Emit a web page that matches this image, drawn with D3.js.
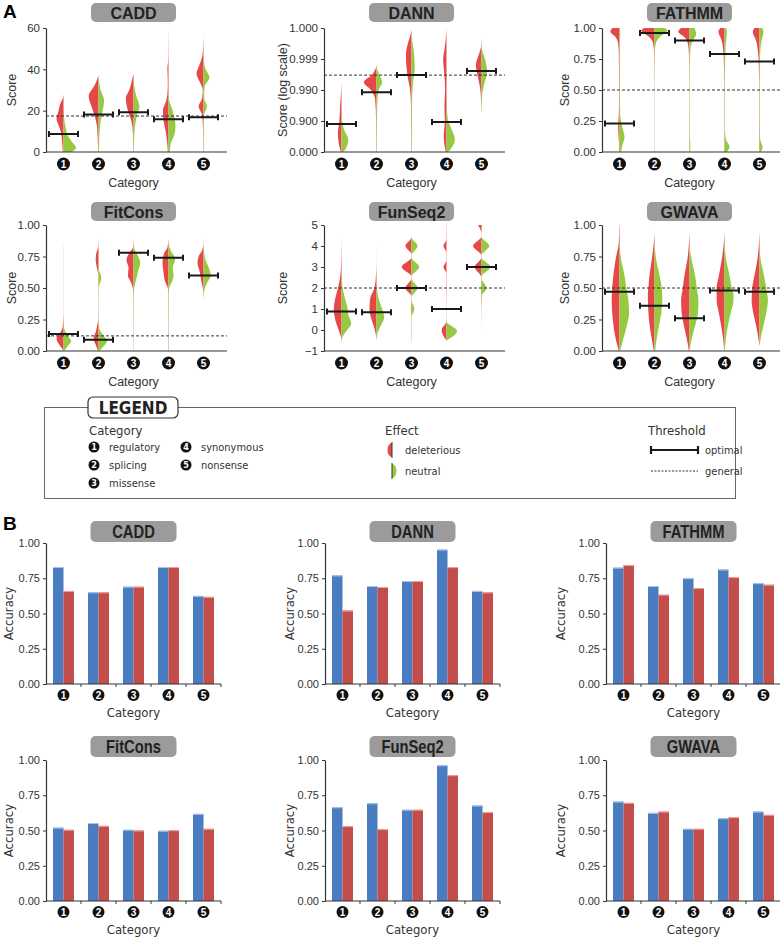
<!DOCTYPE html>
<html>
<head>
<meta charset="utf-8">
<script src="https://cdnjs.cloudflare.com/ajax/libs/d3/7.8.5/d3.min.js"></script>
<style>
body { margin: 0; background: #fff; }
svg { display: block; font-family: "Liberation Sans", Arial, sans-serif; }
.narrow { font-family: "Liberation Sans Narrow", "Arial Narrow", "DejaVu Sans Condensed", sans-serif; }
</style>
</head>
<body>
<svg id="chart" width="780" height="938"></svg>
<script>
// ---- data ----
const categories = [1, 2, 3, 4, 5];
const categoryNames = ["regulatory", "splicing", "missense", "synonymous", "nonsense"];
const tools = ["CADD", "DANN", "FATHMM", "FitCons", "FunSeq2", "GWAVA"];

// score axes (DANN is drawn in "nines": 0.9 -> 1, 0.99 -> 2, 0.999 -> 3)
const scoreDomains = [[0, 60], [0, 4], [0, 1], [0, 1], [-1, 5], [0, 1]];
const scoreTicks = [[0, 20, 40, 60], [0, 1, 2, 3, 4], [0, 0.25, 0.5, 0.75, 1], [0, 0.25, 0.5, 0.75, 1], [-1, 0, 1, 2, 3, 4, 5], [0, 0.25, 0.5, 0.75, 1]];
const dannTickLabels = ["0.000", "0.900", "0.990", "0.999", "1.000"];
const scoreLabels = ["Score", "Score (log scale)", "Score", "Score", "Score", "Score"];

const generalThreshold = [17.4, 2.48, 0.5, 0.12, 2, 0.5];
const optimalThreshold = [
  [8.7, 18.2, 19.2, 15.8, 16.8],
  [0.9, 1.93, 2.48, 0.97, 2.61],
  [0.23, 0.96, 0.9, 0.79, 0.73],
  [0.135, 0.09, 0.78, 0.74, 0.6],
  [0.88, 0.85, 2.0, 1.0, 3.0],
  [0.47, 0.36, 0.26, 0.48, 0.47]
];

// violin halves: [score, relative density]
const deleteriousCADD = [
  [[0,0.05],[5,0.1],[10,0.2],[13,0.35],[16,0.5],[20,0.35],[23,0.25],[26,0.05],[28,0]],
  [[0,0.02],[5,0.05],[12,0.1],[18,0.3],[22,0.5],[27,0.7],[32,0.3],[35,0.1],[37,0]],
  [[0,0.02],[10,0.05],[15,0.15],[20,0.4],[26,0.55],[30,0.3],[35,0.1],[38,0]],
  [[0,0.05],[5,0.1],[10,0.2],[15,0.35],[20,0.4],[25,0.15],[30,0.06],[35,0.05],[40,0.08],[45,0.02],[55,0.01],[60,0]],
  [[0,0.02],[10,0.03],[18,0.1],[22,0.35],[26,0.1],[30,0.05],[33,0.2],[38,0.5],[42,0.3],[46,0.1],[50,0.03],[58,0]]
];
const neutralCADD = [
  [[0,0.6],[2,0.9],[5,0.6],[8,0.3],[12,0.15],[15,0.07],[20,0.02],[22,0]],
  [[0,0.04],[5,0.05],[10,0.08],[15,0.15],[20,0.3],[25,0.4],[30,0.15],[35,0.03],[37,0]],
  [[0,0.03],[5,0.04],[12,0.1],[18,0.25],[22,0.43],[27,0.2],[32,0.05],[36,0]],
  [[0,0.1],[4,0.15],[8,0.4],[12,0.5],[16,0.45],[20,0.3],[25,0.05],[30,0]],
  [[0,0.02],[10,0.02],[18,0.05],[22,0.25],[26,0.05],[28,0.05],[32,0.1],[36,0.43],[40,0.15],[44,0.02],[48,0]]
];
const deleteriousDANN = [
  [[0,0.05],[0.3,0.2],[0.6,0.26],[1,0.15],[1.5,0.1],[2,0.02],[2.3,0]],
  [[0,0.02],[1,0.03],[1.7,0.1],[2,0.4],[2.25,0.9],[2.5,0.3],[2.7,0.05],[2.8,0]],
  [[0,0.02],[1.5,0.04],[2,0.1],[2.5,0.3],[3.1,0.4],[3.6,0.2],[3.8,0.05],[4,0]],
  [[0,0.05],[0.5,0.2],[1,0.12],[1.5,0.15],[2,0.1],[2.5,0.15],[3,0.24],[3.3,0.15],[3.8,0.02],[4,0]],
  [[1.3,0],[1.5,0.02],[2,0.08],[2.4,0.25],[2.8,0.4],[3.2,0.15],[3.4,0.03],[3.7,0]]
];
const neutralDANN = [
  [[0,0.1],[0.1,0.3],[0.4,0.48],[0.7,0.2],[1,0.05],[1.3,0.01],[1.5,0]],
  [[0,0.02],[1.5,0.05],[2,0.15],[2.25,0.4],[2.5,0.2],[2.65,0.05],[2.8,0]],
  [[0,0.03],[1.5,0.04],[2.2,0.1],[2.7,0.23],[3.3,0.15],[3.6,0.05],[3.9,0]],
  [[0,0.1],[0.1,0.3],[0.4,0.6],[0.8,0.3],[1.1,0.08],[1.5,0.02],[2,0]],
  [[1.3,0.02],[1.8,0.05],[2.2,0.2],[2.6,0.4],[3,0.25],[3.3,0.05],[3.6,0]]
];
const deleteriousFATHMM = [
  [[0,0.03],[0.1,0.05],[0.2,0.1],[0.3,0.05],[0.5,0.03],[0.8,0.05],[0.88,0.1],[0.93,0.3],[0.97,0.65],[1,0.5]],
  [[0,0.01],[0.5,0.01],[0.8,0.03],[0.88,0.1],[0.93,0.4],[0.98,0.95],[1,0.7]],
  [[0,0.02],[0.05,0.02],[0.5,0.01],[0.75,0.03],[0.85,0.08],[0.92,0.3],[0.97,0.8],[1,0.6]],
  [[0,0.02],[0.1,0.02],[0.5,0.02],[0.7,0.04],[0.8,0.08],[0.9,0.2],[0.97,0.43],[1,0.3]],
  [[0,0.02],[0.05,0.03],[0.5,0.02],[0.7,0.05],[0.8,0.1],[0.9,0.25],[0.97,0.48],[1,0.35]]
];
const neutralFATHMM = [
  [[0,0.1],[0.05,0.2],[0.12,0.36],[0.2,0.2],[0.3,0.05],[0.5,0.02],[0.9,0.02],[0.95,0.05],[1,0.03]],
  [[0,0.01],[0.5,0.01],[0.8,0.02],[0.88,0.1],[0.93,0.4],[0.98,0.9],[1,0.7]],
  [[0,0.05],[0.05,0.06],[0.15,0.02],[0.7,0.02],[0.85,0.08],[0.9,0.25],[0.95,0.48],[1,0.35]],
  [[0,0.15],[0.04,0.36],[0.1,0.1],[0.2,0.02],[0.5,0.02],[0.85,0.08],[0.97,0.17],[1,0.12]],
  [[0,0.1],[0.04,0.22],[0.1,0.05],[0.2,0.02],[0.5,0.02],[0.8,0.05],[0.9,0.15],[0.97,0.29],[1,0.2]]
];
const deleteriousFitCons = [
  [[0,0.02],[0.02,0.1],[0.05,0.3],[0.1,0.5],[0.15,0.2],[0.2,0.05],[0.3,0.01],[0.8,0.01],[0.85,0]],
  [[0,0.02],[0.05,0.2],[0.1,0.35],[0.15,0.2],[0.2,0.1],[0.25,0.02],[0.4,0.01],[0.6,0.02],[0.68,0.15],[0.72,0.2],[0.78,0.15],[0.83,0.02],[0.9,0]],
  [[0,0.01],[0.45,0.02],[0.5,0.05],[0.55,0.2],[0.6,0.4],[0.66,0.35],[0.72,0.5],[0.78,0.3],[0.82,0.05],[0.87,0.01],[0.9,0]],
  [[0,0.02],[0.45,0.02],[0.5,0.05],[0.55,0.24],[0.62,0.35],[0.7,0.43],[0.78,0.3],[0.82,0.08],[0.88,0.01],[0.9,0]],
  [[0.4,0],[0.5,0.05],[0.55,0.15],[0.62,0.25],[0.7,0.43],[0.75,0.35],[0.8,0.1],[0.85,0.01],[0.9,0]]
];
const neutralFitCons = [
  [[0,0.05],[0.04,0.3],[0.08,0.55],[0.12,0.3],[0.16,0.1],[0.2,0.02],[0.3,0]],
  [[0,0.05],[0.03,0.3],[0.08,0.6],[0.13,0.3],[0.18,0.05],[0.3,0.01],[0.5,0.02],[0.58,0.2],[0.65,0.03],[0.8,0.01],[0.9,0]],
  [[0,0.01],[0.45,0.02],[0.5,0.05],[0.55,0.15],[0.62,0.3],[0.7,0.48],[0.78,0.2],[0.82,0.03],[0.86,0]],
  [[0,0.01],[0.45,0.02],[0.5,0.05],[0.55,0.25],[0.6,0.36],[0.66,0.3],[0.73,0.48],[0.8,0.15],[0.85,0.02],[0.88,0]],
  [[0.4,0],[0.45,0.02],[0.5,0.1],[0.55,0.3],[0.6,0.52],[0.68,0.3],[0.72,0.15],[0.78,0.05],[0.82,0]]
];
const deleteriousFunSeq2 = [
  [[-0.6,0],[-0.3,0.05],[0,0.2],[0.5,0.45],[1,0.55],[1.5,0.45],[2,0.25],[2.5,0.1],[3,0.04],[4,0.01],[4.4,0]],
  [[-0.5,0],[-0.2,0.05],[0.2,0.2],[0.6,0.4],[1,0.5],[1.5,0.45],[2,0.15],[2.5,0.05],[3,0.01],[4,0]],
  [[-0.8,0],[0,0.01],[0.7,0.01],[1,0.05],[1.4,0.01],[1.6,0.01],[2,0.43],[2.45,0.01],[2.55,0.01],[3,0.7],[3.45,0.01],[3.6,0.01],[4,0.43],[4.4,0.01],[4.6,0]],
  [[-0.5,0],[0,0.35],[0.4,0.01],[1,0.01],[2,0.02],[2.7,0.02],[3,0.22],[3.3,0.02],[3.7,0.02],[4,0.22],[4.3,0.02],[5,0.01],[5.2,0]],
  [[-0.1,0],[1,0.01],[2,0.04],[2.5,0.01],[3,0.48],[3.45,0.01],[3.55,0.01],[4,0.6],[4.45,0.01],[4.6,0.01],[5,0.25]]
];
const neutralFunSeq2 = [
  [[-0.6,0],[-0.3,0.1],[0,0.4],[0.3,0.7],[0.7,0.5],[1,0.45],[1.5,0.25],[2,0.08],[2.5,0.02],[3,0]],
  [[-0.5,0],[-0.2,0.05],[0.2,0.3],[0.6,0.55],[1,0.4],[1.5,0.15],[2,0.03],[2.5,0]],
  [[-0.8,0],[0,0.02],[0.6,0.01],[1,0.2],[1.45,0.01],[1.55,0.01],[2,0.43],[2.45,0.01],[2.55,0.01],[3,0.55],[3.45,0.01],[3.55,0.01],[4,0.43],[4.4,0.01],[4.5,0]],
  [[-0.5,0],[-0.05,0.75],[0.4,0.01],[1,0],[5,0]],
  [[-0.1,0],[1,0.01],[1.6,0.01],[2,0.36],[2.45,0.01],[2.55,0.01],[3,0.64],[3.45,0.01],[3.55,0.01],[4,0.55],[4.45,0.01],[4.7,0.01],[5,0.06]]
];
const deleteriousGWAVA = [
  [[0,0.04],[0.1,0.28],[0.25,0.48],[0.4,0.56],[0.5,0.52],[0.6,0.44],[0.75,0.24],[0.85,0.06],[0.95,0.03],[1,0.02]],
  [[0,0.04],[0.1,0.2],[0.25,0.4],[0.45,0.48],[0.5,0.44],[0.6,0.36],[0.75,0.16],[0.9,0.02],[0.95,0]],
  [[0,0.04],[0.1,0.2],[0.2,0.4],[0.3,0.56],[0.4,0.6],[0.5,0.48],[0.6,0.36],[0.75,0.12],[0.9,0.02],[0.95,0]],
  [[0,0.02],[0.1,0.1],[0.2,0.24],[0.3,0.4],[0.4,0.56],[0.5,0.56],[0.6,0.4],[0.75,0.16],[0.9,0.02],[0.95,0]],
  [[0.05,0.02],[0.1,0.08],[0.2,0.24],[0.3,0.44],[0.4,0.56],[0.5,0.52],[0.6,0.36],[0.75,0.12],[0.9,0.02],[0.95,0]]
];
const neutralGWAVA = [
  [[0,0.04],[0.1,0.28],[0.2,0.52],[0.3,0.68],[0.4,0.64],[0.5,0.48],[0.6,0.36],[0.7,0.16],[0.8,0.04],[0.9,0.01],[0.95,0]],
  [[0,0.04],[0.1,0.16],[0.2,0.32],[0.3,0.48],[0.4,0.56],[0.5,0.52],[0.6,0.36],[0.7,0.16],[0.8,0.04],[0.9,0]],
  [[0,0.02],[0.1,0.16],[0.2,0.4],[0.3,0.6],[0.4,0.64],[0.5,0.52],[0.6,0.4],[0.7,0.2],[0.8,0.04],[0.9,0]],
  [[0,0.02],[0.1,0.1],[0.2,0.24],[0.3,0.44],[0.4,0.64],[0.45,0.64],[0.5,0.52],[0.6,0.36],[0.7,0.16],[0.8,0.04],[0.9,0]],
  [[0.05,0.02],[0.1,0.08],[0.2,0.28],[0.3,0.48],[0.4,0.6],[0.5,0.48],[0.6,0.32],[0.7,0.12],[0.8,0.02],[0.9,0]]
];
const deleterious = [deleteriousCADD, deleteriousDANN, deleteriousFATHMM, deleteriousFitCons, deleteriousFunSeq2, deleteriousGWAVA];
const neutral = [neutralCADD, neutralDANN, neutralFATHMM, neutralFitCons, neutralFunSeq2, neutralGWAVA];

// panel B accuracies (blue and red bars)
const accuracyBlue = [
  [0.83, 0.65, 0.69, 0.83, 0.625],
  [0.77, 0.695, 0.73, 0.953, 0.66],
  [0.825, 0.695, 0.75, 0.812, 0.715],
  [0.52, 0.553, 0.505, 0.498, 0.618],
  [0.665, 0.693, 0.647, 0.962, 0.677],
  [0.705, 0.625, 0.512, 0.587, 0.634]
];
const accuracyRed = [
  [0.66, 0.65, 0.69, 0.83, 0.618],
  [0.521, 0.688, 0.73, 0.829, 0.65],
  [0.843, 0.633, 0.68, 0.758, 0.704],
  [0.505, 0.533, 0.5, 0.502, 0.512],
  [0.531, 0.509, 0.647, 0.892, 0.63],
  [0.696, 0.634, 0.512, 0.594, 0.611]
];
const accuracyTicks = [0, 0.25, 0.5, 0.75, 1];

// ---- layout ----
const svg = d3.select("#chart");
const RED = "#e6484a", GREEN = "#95c940", BAR_BLUE = "#4a7cc2", BAR_RED = "#c24d4b";
const colsA = [46, 324, 602];
const rowsA = [{top: 28, bottom: 152}, {top: 225, bottom: 351}];
const colsB = [46, 325, 606];
const rowsB = [{top: 543, bottom: 684}, {top: 760, bottom: 901}];
const labelXA = [12, 283, 565];
const labelXB = [9, 290, 561];
const band = 35;

const widthScale = d3.scaleLinear().domain([0, 1]).range([0, 14]);

function styleAxis(g) {
  g.select(".domain").attr("stroke", "#333").attr("stroke-width", 1.2);
  g.selectAll(".tick line").attr("stroke", "#333");
  g.selectAll(".tick text").attr("fill", "#333");
}

function titleBox(cx, y, w, h, text, squeeze) {
  svg.append("rect")
    .attr("x", cx - w / 2).attr("y", y).attr("width", w).attr("height", h)
    .attr("rx", 5).attr("fill", "#9b9b9b");
  svg.append("text")
    .attr("transform", `translate(${cx},${y + h / 2 + 6}) scale(${squeeze},1)`)
    .attr("text-anchor", "middle")
    .attr("font-size", squeeze < 1 ? 18 : 16).attr("font-weight", "bold")
    .attr("fill", "#222").text(text);
}

function categoryMarks(x, y, r, fs) {
  const g = svg.append("g");
  const m = g.selectAll("g").data(categories).join("g")
    .attr("transform", d => `translate(${x(d) + x.bandwidth() / 2},${y})`);
  m.append("circle").attr("r", r).attr("fill", "#111");
  m.append("text").attr("y", fs * 0.36).attr("text-anchor", "middle")
    .attr("font-size", fs).attr("font-weight", "bold").attr("fill", "#fff")
    .text(d => d);
}

// ---- panel A: split violins ----
tools.forEach((tool, i) => {
  const x0 = colsA[i % 3], r = rowsA[Math.floor(i / 3)];
  const x = d3.scaleBand().domain(categories).range([x0, x0 + band * 5]);
  const y = d3.scaleLinear().domain(scoreDomains[i]).range([r.bottom, r.top]);
  const cx = d => x(d) + x.bandwidth() / 2;
  const g = svg.append("g");

  const half = (c, side) => d3.area()
    .curve(d3.curveMonotoneY)
    .y(d => y(d[0]))
    .x0(c)
    .x1(d => c + side * widthScale(d[1]));

  g.selectAll("path.del").data(deleterious[i]).join("path")
    .attr("class", "del").attr("fill", RED)
    .attr("d", (d, j) => half(cx(categories[j]), -1)(d));
  g.selectAll("path.neu").data(neutral[i]).join("path")
    .attr("class", "neu").attr("fill", GREEN)
    .attr("d", (d, j) => half(cx(categories[j]), 1)(d));

  // general threshold
  g.append("line")
    .attr("x1", x0).attr("x2", x0 + band * 5 + 6)
    .attr("y1", y(generalThreshold[i])).attr("y2", y(generalThreshold[i]))
    .attr("stroke", "#333").attr("stroke-width", 1).attr("stroke-dasharray", "3,2");

  // optimal thresholds
  g.selectAll("path.opt").data(optimalThreshold[i]).join("path")
    .attr("class", "opt")
    .attr("d", (d, j) => {
      const c = cx(categories[j]), yy = y(d);
      return `M${c - 14.5},${yy}H${c + 14.5}M${c - 14.5},${yy - 3}V${yy + 3}M${c + 14.5},${yy - 3}V${yy + 3}`;
    })
    .attr("stroke", "#1a1a1a").attr("stroke-width", 2).attr("fill", "none");

  const yAxis = d3.axisLeft(y).tickValues(scoreTicks[i]).tickSize(3).tickSizeOuter(0)
    .tickFormat(i === 1 ? (d => dannTickLabels[d]) : (scoreDomains[i][1] === 1 ? d3.format(".2f") : d3.format("d")));
  g.append("g").attr("transform", `translate(${x0},0)`).call(yAxis)
    .call(styleAxis).call(a => a.selectAll("text").attr("font-size", 11.5));

  g.append("line").attr("x1", x0).attr("x2", x0 + band * 5 + 6)
    .attr("y1", r.bottom).attr("y2", r.bottom).attr("stroke", "#333").attr("stroke-width", 1.2);

  categoryMarks(x, r.bottom + 12, 6.5, 10);
  svg.append("text").attr("x", x0 + band * 2.5).attr("y", r.bottom + 35)
    .attr("text-anchor", "middle").attr("font-size", 12.5).attr("fill", "#333").text("Category");
  svg.append("text")
    .attr("transform", `translate(${labelXA[i % 3] + 4},${(r.top + r.bottom) / 2}) rotate(-90)`)
    .attr("text-anchor", "middle").attr("font-size", 12.5).attr("fill", "#333").text(scoreLabels[i]);

  titleBox(x0 + band * 2.5, r.top - 25 + (i >= 3 ? 2 : 0), 85, 19, tool, 1);
});

svg.append("text").attr("x", 3).attr("y", 18).attr("font-size", 19).attr("font-weight", "bold").text("A");
svg.append("text").attr("x", 3).attr("y", 530).attr("font-size", 19).attr("font-weight", "bold").text("B");

// ---- legend ----
const lg = svg.append("g").attr("class", "narrow");
lg.append("rect").attr("x", 44.5).attr("y", 407.5).attr("width", 691).attr("height", 91)
  .attr("fill", "none").attr("stroke", "#666");
lg.append("rect").attr("x", 88).attr("y", 397).attr("width", 90).attr("height", 21).attr("rx", 5)
  .attr("fill", "#fff").attr("stroke", "#333").attr("stroke-width", 1.2);
lg.append("text").attr("x", 133).attr("y", 414).attr("text-anchor", "middle")
  .attr("font-size", 17).attr("font-weight", "bold").attr("fill", "#222").text("LEGEND");

[["Category", 89], ["Effect", 385], ["Threshold", 648]].forEach(([t, xx]) => {
  lg.append("text").attr("x", xx).attr("y", 435).attr("font-size", 13).attr("fill", "#333").text(t);
});

const legendItems = lg.selectAll("g.cat").data(categories).join("g").attr("class", "cat")
  .attr("transform", (d, j) => `translate(${j < 3 ? 94 : 186},${447 + (j % 3) * 18})`);
legendItems.append("circle").attr("r", 5.5).attr("fill", "#111");
legendItems.append("text").attr("y", 3.3).attr("text-anchor", "middle").attr("font-size", 9)
  .attr("font-weight", "bold").attr("fill", "#fff").text(d => d);
legendItems.append("text").attr("x", 15).attr("y", 4).attr("font-size", 11).attr("fill", "#333")
  .text((d, j) => categoryNames[j]);

const effects = [{name: "deleterious", color: RED, side: -1, y: 450}, {name: "neutral", color: GREEN, side: 1, y: 471}];
effects.forEach(e => {
  lg.append("path")
    .attr("d", `M392,${e.y - 7}A4.5,7 0 0 ${e.side < 0 ? 0 : 1} 392,${e.y + 7}Z`)
    .attr("fill", e.color);
  lg.append("line").attr("x1", 392).attr("x2", 392).attr("y1", e.y - 8).attr("y2", e.y + 8)
    .attr("stroke", "#333").attr("stroke-width", 1);
  lg.append("text").attr("x", 405).attr("y", e.y + 4).attr("font-size", 11).attr("fill", "#333").text(e.name);
});

lg.append("path").attr("d", "M651,450H698M651,446V454M698,446V454")
  .attr("stroke", "#1a1a1a").attr("stroke-width", 2.2).attr("fill", "none");
lg.append("text").attr("x", 705).attr("y", 454).attr("font-size", 11).attr("fill", "#333").text("optimal");
lg.append("line").attr("x1", 651).attr("x2", 698).attr("y1", 471).attr("y2", 471)
  .attr("stroke", "#333").attr("stroke-dasharray", "2,1.5");
lg.append("text").attr("x", 705).attr("y", 475).attr("font-size", 11).attr("fill", "#333").text("general");

// ---- panel B: accuracy bars ----
tools.forEach((tool, i) => {
  const x0 = colsB[i % 3], r = rowsB[Math.floor(i / 3)];
  const x = d3.scaleBand().domain(categories).range([x0, x0 + band * 5]);
  const y = d3.scaleLinear().domain([0, 1]).range([r.bottom, r.top]);
  const g = svg.append("g").attr("class", "narrow");
  const bw = 10.5;

  g.selectAll("rect.blue").data(accuracyBlue[i]).join("rect").attr("class", "blue")
    .attr("x", (d, j) => x(categories[j]) + x.bandwidth() / 2 - bw)
    .attr("y", d => y(d)).attr("width", bw).attr("height", d => r.bottom - y(d))
    .attr("fill", BAR_BLUE);
  g.selectAll("rect.red").data(accuracyRed[i]).join("rect").attr("class", "red")
    .attr("x", (d, j) => x(categories[j]) + x.bandwidth() / 2)
    .attr("y", d => y(d)).attr("width", bw).attr("height", d => r.bottom - y(d))
    .attr("fill", BAR_RED);
  // light top edge of the bars
  g.selectAll("line.bt").data(accuracyBlue[i]).join("line").attr("class", "bt")
    .attr("x1", (d, j) => x(categories[j]) + x.bandwidth() / 2 - bw)
    .attr("x2", (d, j) => x(categories[j]) + x.bandwidth() / 2)
    .attr("y1", d => y(d) + 0.5).attr("y2", d => y(d) + 0.5).attr("stroke", "#a9c6ee");
  g.selectAll("line.rt").data(accuracyRed[i]).join("line").attr("class", "rt")
    .attr("x1", (d, j) => x(categories[j]) + x.bandwidth() / 2)
    .attr("x2", (d, j) => x(categories[j]) + x.bandwidth() / 2 + bw)
    .attr("y1", d => y(d) + 0.5).attr("y2", d => y(d) + 0.5).attr("stroke", "#eea3a1");

  g.append("g").attr("transform", `translate(${x0},0)`)
    .call(d3.axisLeft(y).tickValues(accuracyTicks).tickFormat(d3.format(".2f")).tickSize(3).tickSizeOuter(0))
    .call(styleAxis).call(a => a.selectAll("text").attr("font-size", 11));

  g.append("line").attr("x1", x0).attr("x2", x0 + band * 5)
    .attr("y1", r.bottom).attr("y2", r.bottom).attr("stroke", "#333").attr("stroke-width", 1.2);
  g.selectAll("line.xt").data(categories).join("line").attr("class", "xt")
    .attr("x1", d => x(d) + band).attr("x2", d => x(d) + band)
    .attr("y1", r.bottom).attr("y2", r.bottom + 3).attr("stroke", "#333");

  categoryMarks(x, r.bottom + 11, 6, 10);
  svg.append("text").attr("class", "narrow").attr("x", x0 + band * 2.5).attr("y", r.bottom + 33)
    .attr("text-anchor", "middle").attr("font-size", 13).attr("fill", "#333").text("Category");
  svg.append("text").attr("class", "narrow")
    .attr("transform", `translate(${labelXB[i % 3] + 4},${(r.top + r.bottom) / 2}) rotate(-90)`)
    .attr("text-anchor", "middle").attr("font-size", 13).attr("fill", "#333").text("Accuracy");

  titleBox(x0 + band * 2.5, r.top - 22 + (i >= 3 ? -2 : 0), 86, 21, tool, 0.82);
});
</script>
</body>
</html>
